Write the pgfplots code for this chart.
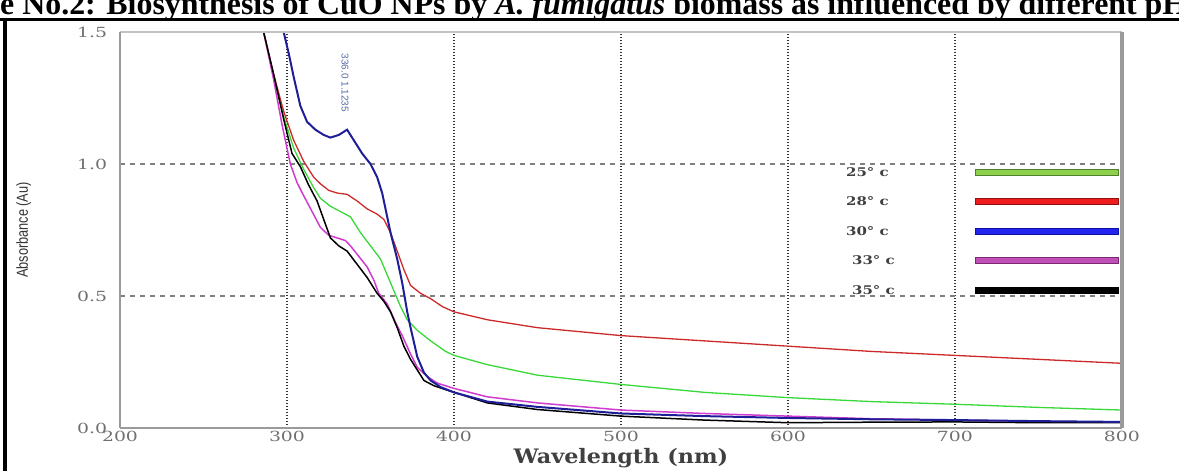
\documentclass[border=0pt]{standalone}
\usepackage{pgfplots}
\pgfplotsset{compat=1.18}
\usepackage{fontspec}
\setmainfont{Liberation Serif}
\newfontfamily\dvs{DejaVu Serif}
\newfontfamily\lsans{Liberation Sans}
\definecolor{cgreen}{HTML}{38D838}
\definecolor{cred}{HTML}{CC2A2A}
\definecolor{cblue}{HTML}{1E1E98}
\definecolor{cmag}{HTML}{D03CD0}
\definecolor{lgreen}{HTML}{8CD04C}
\definecolor{lgreenD}{HTML}{4F7F2A}
\definecolor{lred}{HTML}{EE1C1C}
\definecolor{lredD}{HTML}{901010}
\definecolor{lblue}{HTML}{2424F0}
\definecolor{lblueD}{HTML}{1010A0}
\definecolor{lmag}{HTML}{C050B8}
\definecolor{lmagD}{HTML}{7A2A70}
\definecolor{tickgray}{HTML}{707070}
\definecolor{framegray}{HTML}{9A9A9A}
\definecolor{annblue}{HTML}{5A6AA8}
\begin{document}
\begin{tikzpicture}
\useasboundingbox (0,0) rectangle (1179bp,471bp);
\clip (0,0) rectangle (1179bp,471bp);
\node[anchor=base west, inner sep=0pt, font=\bfseries\fontsize{32}{32}\selectfont] at (0bp,456bp) {\llap{Figur}e No.2: Biosynthesis of CuO NPs by \textit{A. fumigatus} biomass as influenced by different pH};
\draw[line width=3bp] (-2bp,451bp) -- (1181bp,451bp);
\draw[line width=4bp] (5bp,-2bp) -- (5bp,452.5bp);
\begin{axis}[
  at={(120bp,43bp)}, anchor=south west, scale only axis,
  width=1002bp, height=396bp,
  xmin=200, xmax=800, ymin=0, ymax=1.5,
  xtick={200,300,...,800}, ytick={0,0.5,1.0,1.5},
  major tick length=0pt,
  axis line style={draw=none},
  clip=false,
  /pgf/number format/assume math mode=true,
  yticklabel style={/pgf/number format/.cd, fixed, fixed zerofill, precision=1, /tikz/.cd,
     font=\dvs\fontsize{14}{14}\selectfont, text=tickgray, xscale=1.35, xshift=-6bp},
  xticklabel style={font=\dvs\fontsize{14}{14}\selectfont, text=tickgray, xscale=1.35, /pgf/number format/1000 sep={}},
  xlabel={Wavelength (nm)},
  xlabel style={at={(axis description cs:0.5,-0.0758)}, anchor=center, font=\dvs\bfseries\fontsize{20}{20}\selectfont, text=black!75, xscale=1.12},
  ylabel={\scalebox{0.8}[1]{Absorbance (Au)}},
  ylabel style={at={(axis description cs:-0.096,0.5)}, anchor=center, font=\lsans\fontsize{16}{16}\selectfont, text=black!80},
  legend plot pos=right,
  legend image code/.code={\filldraw[#1, line width=1.3bp] (0bp,-3bp) rectangle (143bp,3bp);},
  legend style={draw=none, fill=none, inner sep=0pt, column sep=0pt,
     at={(axis description cs:0.7245,0.6616)}, anchor=north west, row sep=17.5bp,
     nodes={inner sep=0pt, text height=10bp, text depth=2bp, font=\dvs\bfseries\fontsize{12}{12}\selectfont, text=black!75}},
  legend cell align=left,
]
% grid
\pgfplotsinvokeforeach{300,400,500,600,700}{
  \draw[black!80, line width=1.7bp, dash pattern=on 1.5bp off 1.5bp] (axis cs:#1,0) -- (axis cs:#1,1.5);
}
\draw[gray, line width=1.1bp, dash pattern=on 5bp off 5bp] (axis cs:200,0.5) -- (axis cs:800,0.5);
\draw[gray, line width=1.1bp, dash pattern=on 5bp off 5bp] (axis cs:200,1.0) -- (axis cs:800,1.0);
% 25 C green
\addplot[cgreen, line width=1.3bp, forget plot] coordinates {
(286,1.50)(292,1.33)(298,1.18)(304,1.06)(310,0.98)(316,0.91)(320,0.87)(326,0.84)(332,0.82)(338,0.80)
(344,0.74)(350,0.69)(356,0.64)(360,0.58)(364,0.52)(368,0.46)(372,0.41)(378,0.37)(386,0.33)(395,0.29)
(400,0.275)(420,0.24)(450,0.20)(500,0.165)(550,0.135)(600,0.115)(650,0.10)(700,0.09)(750,0.078)(800,0.068)};
% 28 C red
\addplot[cred, line width=1.3bp, forget plot] coordinates {
(286,1.50)(292,1.34)(298,1.20)(304,1.09)(310,1.01)(316,0.95)(320,0.925)(325,0.90)(330,0.89)(336,0.885)
(342,0.86)(348,0.83)(354,0.81)(358,0.79)(362,0.74)(366,0.67)(370,0.60)(374,0.54)(380,0.51)(386,0.49)
(393,0.46)(400,0.44)(420,0.41)(450,0.38)(500,0.35)(550,0.33)(600,0.31)(650,0.29)(700,0.275)(750,0.26)(800,0.245)};
% 33 C magenta
\addplot[cmag, line width=1.5bp, forget plot] coordinates {
(286,1.50)(292,1.32)(297,1.15)(302,1.00)(306,0.93)(310,0.88)(315,0.82)(320,0.76)(325,0.73)(330,0.72)
(335,0.71)(338,0.69)(343,0.65)(348,0.61)(352,0.56)(355,0.51)(360,0.47)(365,0.40)(369,0.35)(374,0.28)
(378,0.23)(384,0.195)(390,0.17)(400,0.15)(420,0.118)(450,0.095)(500,0.068)(550,0.055)(600,0.045)(650,0.035)
(700,0.03)(750,0.025)(800,0.022)};
% 35 C black
\addplot[black, line width=1.5bp, forget plot] coordinates {
(286,1.50)(292,1.34)(298,1.17)(303,1.04)(308,0.99)(313,0.92)(318,0.86)(322,0.79)(326,0.72)(331,0.69)
(336,0.67)(342,0.62)(348,0.57)(354,0.51)(358,0.48)(362,0.44)(366,0.38)(370,0.31)(374,0.26)(378,0.22)
(382,0.18)(388,0.16)(400,0.135)(420,0.095)(450,0.07)(500,0.045)(550,0.03)(600,0.02)(650,0.022)(700,0.023)
(750,0.02)(800,0.02)};
% 30 C blue
\addplot[cblue, line width=2.0bp, forget plot] coordinates {
(298,1.50)(301,1.42)(304,1.33)(308,1.22)(312,1.16)(317,1.13)(322,1.11)(326,1.10)(331,1.11)(336,1.13)
(340,1.09)(345,1.04)(350,1.00)(354,0.95)(357,0.89)(360,0.80)(362,0.74)(366,0.64)(369,0.55)(372,0.44)
(374,0.38)(378,0.27)(382,0.21)(386,0.18)(392,0.155)(400,0.135)(420,0.10)(450,0.08)(500,0.055)(550,0.045)
(600,0.038)(650,0.033)(700,0.03)(750,0.026)(800,0.023)};
\node[rotate=-90, inner sep=0pt, font=\lsans\fontsize{10}{10}\selectfont, text=annblue] at (axis cs:334.7,1.307) {336.0 1.1235};
% legend
\addlegendimage{fill=lgreen, draw=lgreenD}
\addlegendentry{\makebox[129bp][l]{\scalebox{1.25}[1]{25° c}}}
\addlegendimage{fill=lred, draw=lredD}
\addlegendentry{\makebox[129bp][l]{\scalebox{1.25}[1]{28° c}}}
\addlegendimage{fill=lblue, draw=lblueD}
\addlegendentry{\makebox[129bp][l]{\scalebox{1.25}[1]{30° c}}}
\addlegendimage{fill=lmag, draw=lmagD}
\addlegendentry{\makebox[129bp][l]{\hspace{6bp}\scalebox{1.25}[1]{33° c}}}
\addlegendimage{fill=black, draw=black}
\addlegendentry{\makebox[129bp][l]{\hspace{6bp}\scalebox{1.25}[1]{35° c}}}
% frame
\draw[framegray!60, line width=1.5bp] (axis description cs:0,1) -- (axis description cs:1,1);
\draw[framegray, line width=2bp] (axis description cs:0,0) -- (axis description cs:0,1);
\draw[framegray, line width=2bp] (axis description cs:0,0) -- (axis description cs:1,0);
\draw[framegray, line width=4bp] (axis description cs:1,0) -- (axis description cs:1,1);
\end{axis}
\end{tikzpicture}
\end{document}
